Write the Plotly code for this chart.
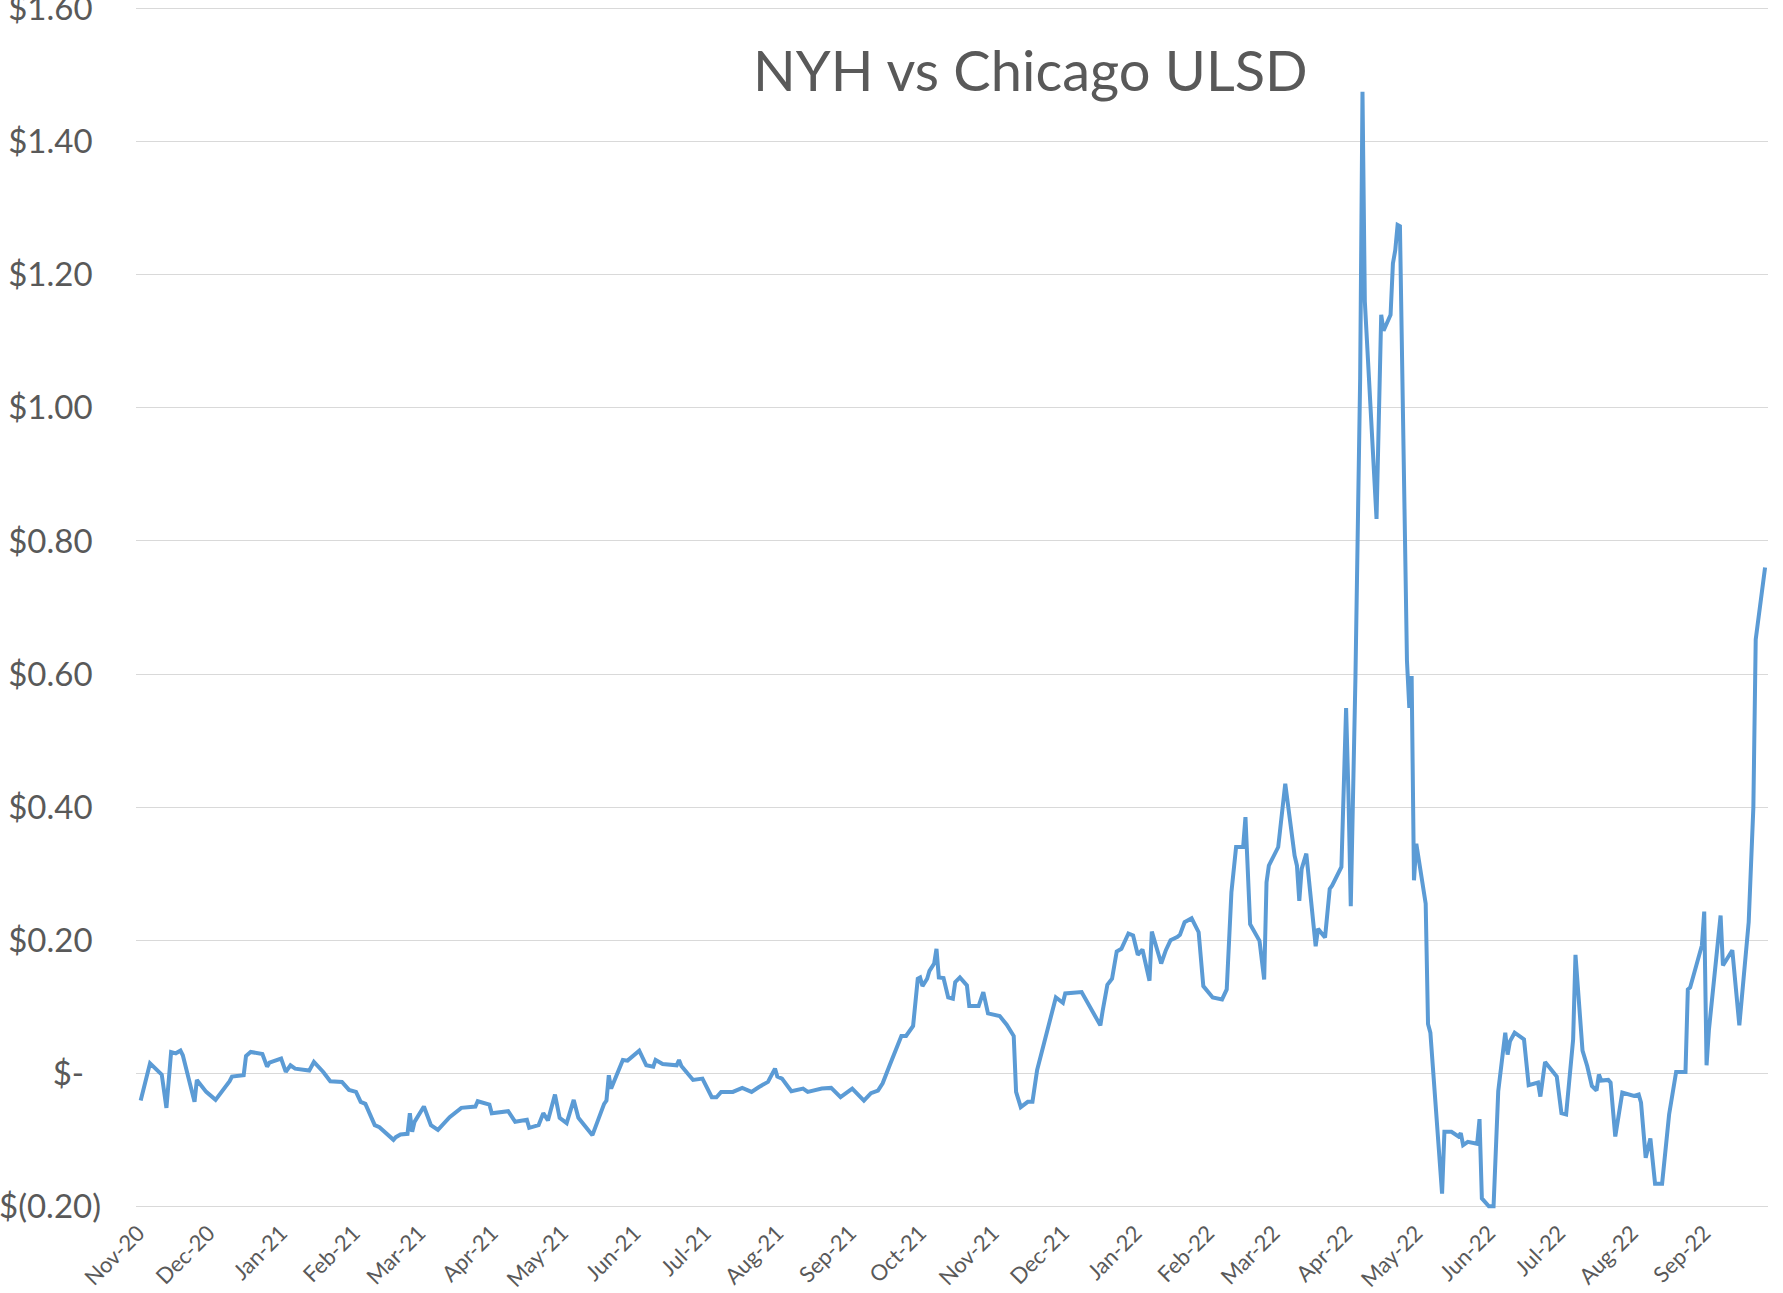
import plotly.graph_objects as go

title_text = "NYH vs Chicago ULSD"

dates = [
    "2020-11-02", "2020-11-06", "2020-11-11", "2020-11-13", "2020-11-15", "2020-11-17", "2020-11-19", "2020-11-20",
    "2020-11-25", "2020-11-26", "2020-11-30", "2020-12-04", "2020-12-10", "2020-12-11", "2020-12-16", "2020-12-17",
    "2020-12-19", "2020-12-24", "2020-12-26", "2020-12-27", "2021-01-01", "2021-01-03", "2021-01-05", "2021-01-07",
    "2021-01-13", "2021-01-15", "2021-01-19", "2021-01-22", "2021-01-27", "2021-01-30", "2021-02-02", "2021-02-04",
    "2021-02-06", "2021-02-10", "2021-02-12", "2021-02-14", "2021-02-18", "2021-02-19", "2021-02-21", "2021-02-24",
    "2021-02-25", "2021-02-26", "2021-02-27", "2021-03-03", "2021-03-06", "2021-03-09", "2021-03-14", "2021-03-19",
    "2021-03-25", "2021-03-26", "2021-03-31", "2021-04-01", "2021-04-08", "2021-04-11", "2021-04-16", "2021-04-17",
    "2021-04-21", "2021-04-23", "2021-04-25", "2021-04-28", "2021-04-30", "2021-05-03", "2021-05-06", "2021-05-08",
    "2021-05-14", "2021-05-19", "2021-05-20", "2021-05-21", "2021-05-22", "2021-05-27", "2021-05-29", "2021-06-03",
    "2021-06-06", "2021-06-09", "2021-06-10", "2021-06-13", "2021-06-19", "2021-06-20", "2021-06-21", "2021-06-26",
    "2021-06-30", "2021-07-04", "2021-07-06", "2021-07-08", "2021-07-13", "2021-07-17", "2021-07-21", "2021-07-24",
    "2021-07-28", "2021-07-31", "2021-08-01", "2021-08-03", "2021-08-07", "2021-08-12", "2021-08-14", "2021-08-20",
    "2021-08-24", "2021-08-28", "2021-09-02", "2021-09-07", "2021-09-10", "2021-09-13", "2021-09-15", "2021-09-18",
    "2021-09-23", "2021-09-25", "2021-09-28", "2021-09-30", "2021-10-01", "2021-10-02", "2021-10-04", "2021-10-05",
    "2021-10-07", "2021-10-08", "2021-10-09", "2021-10-11", "2021-10-13", "2021-10-15", "2021-10-16", "2021-10-18",
    "2021-10-21", "2021-10-22", "2021-10-26", "2021-10-28", "2021-10-30", "2021-11-04", "2021-11-07", "2021-11-10",
    "2021-11-11", "2021-11-13", "2021-11-16", "2021-11-18", "2021-11-20", "2021-11-23", "2021-11-28", "2021-12-01",
    "2021-12-02", "2021-12-09", "2021-12-17", "2021-12-18", "2021-12-20", "2021-12-22", "2021-12-24", "2021-12-26",
    "2021-12-29", "2021-12-31", "2022-01-02", "2022-01-04", "2022-01-07", "2022-01-08", "2022-01-12", "2022-01-14",
    "2022-01-16", "2022-01-19", "2022-01-20", "2022-01-22", "2022-01-25", "2022-01-28", "2022-01-30", "2022-02-03",
    "2022-02-07", "2022-02-09", "2022-02-11", "2022-02-13", "2022-02-16", "2022-02-17", "2022-02-19", "2022-02-23",
    "2022-02-25", "2022-02-26", "2022-02-27", "2022-03-03", "2022-03-04", "2022-03-06", "2022-03-10", "2022-03-11",
    "2022-03-12", "2022-03-13", "2022-03-15", "2022-03-19", "2022-03-20", "2022-03-23", "2022-03-25", "2022-03-26",
    "2022-03-30", "2022-04-01", "2022-04-02", "2022-04-03", "2022-04-05", "2022-04-07", "2022-04-08", "2022-04-09",
    "2022-04-14", "2022-04-16", "2022-04-17", "2022-04-20", "2022-04-21", "2022-04-22", "2022-04-23", "2022-04-24",
    "2022-04-27", "2022-04-28", "2022-04-29", "2022-04-30", "2022-05-01", "2022-05-05", "2022-05-06", "2022-05-07",
    "2022-05-12", "2022-05-13", "2022-05-16", "2022-05-19", "2022-05-20", "2022-05-21", "2022-05-23", "2022-05-27",
    "2022-05-28", "2022-05-29", "2022-06-01", "2022-06-03", "2022-06-05", "2022-06-08", "2022-06-09", "2022-06-10",
    "2022-06-12", "2022-06-16", "2022-06-18", "2022-06-22", "2022-06-23", "2022-06-25", "2022-06-30", "2022-07-02",
    "2022-07-04", "2022-07-07", "2022-07-08", "2022-07-11", "2022-07-13", "2022-07-15", "2022-07-17", "2022-07-18",
    "2022-07-19", "2022-07-22", "2022-07-23", "2022-07-25", "2022-07-28", "2022-07-31", "2022-08-02", "2022-08-04",
    "2022-08-05", "2022-08-07", "2022-08-09", "2022-08-11", "2022-08-14", "2022-08-17", "2022-08-20", "2022-08-24",
    "2022-08-25", "2022-08-26", "2022-08-31", "2022-09-01", "2022-09-02", "2022-09-03", "2022-09-08", "2022-09-09",
    "2022-09-13", "2022-09-16", "2022-09-20", "2022-09-22", "2022-09-23", "2022-09-27",
]

spread = [
    -0.041, 0.015, -0.002, -0.052, 0.032, 0.030, 0.034, 0.027,
    -0.043, -0.010, -0.028, -0.040, -0.012, -0.005, -0.003, 0.026,
    0.032, 0.029, 0.010, 0.016, 0.022, 0.002, 0.012, 0.007,
    0.004, 0.017, 0.002, -0.012, -0.013, -0.025, -0.028, -0.043,
    -0.046, -0.078, -0.081, -0.087, -0.100, -0.096, -0.092, -0.091,
    -0.060, -0.088, -0.073, -0.050, -0.078, -0.085, -0.066, -0.052,
    -0.050, -0.042, -0.047, -0.060, -0.057, -0.073, -0.070, -0.082,
    -0.078, -0.060, -0.071, -0.032, -0.067, -0.075, -0.040, -0.067,
    -0.093, -0.046, -0.041, -0.003, -0.023, 0.020, 0.019, 0.034,
    0.012, 0.010, 0.020, 0.014, 0.012, 0.020, 0.011, -0.010,
    -0.008, -0.036, -0.036, -0.028, -0.028, -0.022, -0.028, -0.021,
    -0.013, 0.007, -0.005, -0.008, -0.027, -0.023, -0.028, -0.023,
    -0.022, -0.036, -0.023, -0.041, -0.030, -0.026, -0.015, 0.012,
    0.056, 0.056, 0.071, 0.142, 0.144, 0.131, 0.142, 0.154,
    0.165, 0.187, 0.144, 0.143, 0.114, 0.112, 0.137, 0.144,
    0.132, 0.101, 0.101, 0.122, 0.090, 0.086, 0.073, 0.056,
    -0.028, -0.051, -0.043, -0.043, 0.005, 0.046, 0.114, 0.106,
    0.120, 0.122, 0.072, 0.094, 0.133, 0.142, 0.183, 0.187,
    0.210, 0.207, 0.178, 0.186, 0.139, 0.213, 0.165, 0.185,
    0.200, 0.205, 0.208, 0.227, 0.233, 0.212, 0.131, 0.114,
    0.111, 0.126, 0.272, 0.340, 0.340, 0.385, 0.224, 0.199,
    0.141, 0.287, 0.312, 0.340, 0.372, 0.435, 0.327, 0.312,
    0.259, 0.307, 0.330, 0.191, 0.217, 0.204, 0.277, 0.282,
    0.310, 0.549, 0.420, 0.251, 0.597, 1.044, 1.475, 1.160,
    0.833, 1.140, 1.116, 1.140, 1.217, 1.237, 1.275, 1.273,
    0.620, 0.549, 0.597, 0.290, 0.345, 0.255, 0.074, 0.061,
    -0.181, -0.088, -0.088, -0.095, -0.090, -0.108, -0.103, -0.106,
    -0.069, -0.188, -0.200, -0.200, -0.027, 0.061, 0.028, 0.048,
    0.061, 0.051, -0.018, -0.014, -0.035, 0.017, -0.005, -0.060,
    -0.062, 0.051, 0.178, 0.034, 0.011, -0.019, -0.026, -0.002,
    -0.011, -0.010, -0.014, -0.095, -0.029, -0.032, -0.034, -0.032,
    -0.044, -0.127, -0.098, -0.166, -0.166, -0.062, 0.002, 0.002,
    0.126, 0.129, 0.192, 0.243, 0.012, 0.065, 0.237, 0.162,
    0.185, 0.072, 0.227, 0.400, 0.652, 0.760,
]

y_tick_values = [-0.2, 0.0, 0.2, 0.4, 0.6, 0.8, 1.0, 1.2, 1.4, 1.6]
y_tick_labels = ["$(0.20)", "$-\u00a0\u00a0", "$0.20\u00a0", "$0.40\u00a0", "$0.60\u00a0",
                 "$0.80\u00a0", "$1.00\u00a0", "$1.20\u00a0", "$1.40\u00a0", "$1.60\u00a0"]

FONT = "Lato"
GREY = "#595959"

fig = go.Figure()
fig.add_trace(go.Scatter(
    x=dates, y=spread, mode="lines",
    line=dict(color="#5B9BD5", width=4),
    showlegend=False,
))

fig.update_layout(
    width=1783, height=1293,
    margin=dict(l=136, r=15, t=6, b=84),
    paper_bgcolor="white", plot_bgcolor="white",
    font=dict(family=FONT, color=GREY),
    annotations=[dict(
        text=title_text, xref="paper", yref="paper", x=0.548, y=0.947,
        xanchor="center", yanchor="middle", showarrow=False,
        font=dict(family=FONT, size=56, color=GREY),
    )],
)

fig.update_xaxes(
    type="date",
    range=["2020-10-31", "2022-09-28 06:00"],
    tick0="2020-11-01", dtick="M1", tickformat="%b-%y",
    tickangle=-45,
    tickfont=dict(family=FONT, size=22, color=GREY),
    showgrid=False, showline=False, zeroline=False, ticks="",
    ticklabelstandoff=6,
    ticklabeloverflow="allow",
    automargin=False,
)

fig.update_yaxes(
    range=[-0.204, 1.604],
    tickvals=y_tick_values, ticktext=y_tick_labels,
    tickfont=dict(family=FONT, size=33, color=GREY),
    showgrid=True, gridcolor="#D9D9D9", gridwidth=1.3,
    zeroline=False, showline=False, ticks="",
    ticklabelstandoff=34,
    ticklabeloverflow="allow",
    automargin=False,
)

fig.write_html("out.html", post_script="document.body.style.margin='0';",
               config={"displayModeBar": False})
